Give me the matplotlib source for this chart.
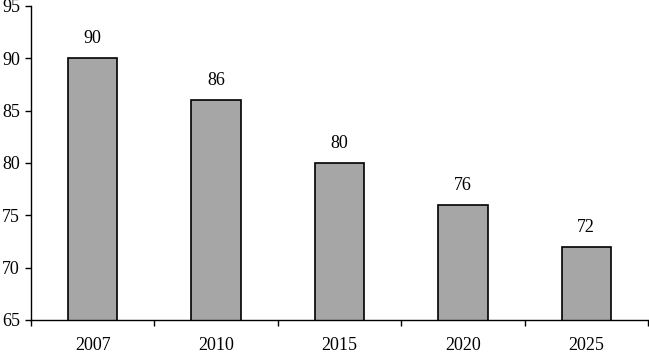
import numpy as np
import matplotlib.pyplot as plt

years = ['2007', '2010', '2015', '2020', '2025']
values = [90, 86, 80, 76, 72]

plt.rcParams['font.family'] = ['Liberation Serif', 'DejaVu Serif']

fig = plt.figure(figsize=(6.49, 3.54), dpi=100)
ax = fig.add_axes([31 / 649, 34 / 354, 617 / 649, 314 / 354])

x = np.arange(len(years))
bars = ax.bar(x, values, width=0.4, bottom=0, color='#a6a6a6',
              edgecolor='black', linewidth=1.2, zorder=2)

for xi, v in zip(x, values):
    ax.annotate(str(v), (xi, v), xytext=(0, 8), textcoords='offset points',
                ha='center', va='bottom', fontsize=13)

ax.set_ylim(65, 95)
ax.set_yticks(range(65, 96, 5))
ax.set_xlim(-0.5, len(years) - 0.5)
ax.set_xticks(x)
ax.set_xticklabels(years)
ax.set_xticks(np.arange(-0.5, len(years)), minor=True)

ax.tick_params(axis='x', which='major', length=0, pad=12.5, labelsize=13)
ax.tick_params(axis='x', which='minor', length=4, width=1, direction='out')
ax.tick_params(axis='y', length=4, width=1, direction='out', pad=4, labelsize=13)

ax.spines['top'].set_visible(False)
ax.spines['right'].set_visible(False)
ax.spines['left'].set_linewidth(1)
ax.spines['bottom'].set_linewidth(1)

fig.savefig('out.png', dpi=100)
